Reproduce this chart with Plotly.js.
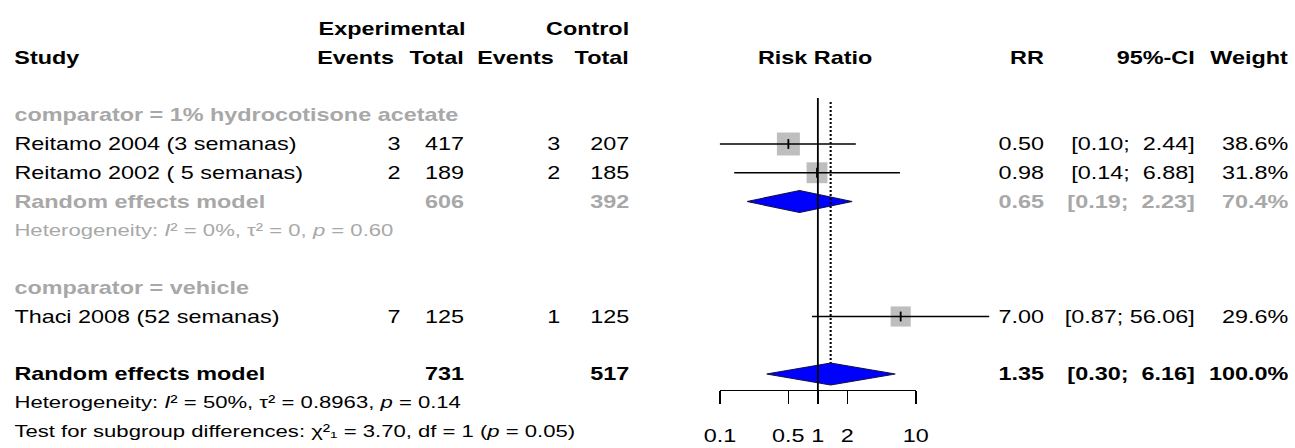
<!DOCTYPE html>
<html>
<head>
<meta charset="utf-8">
<script src="https://cdn.plot.ly/plotly-3.0.1.min.js"></script>
<style>
html, body { margin: 0; padding: 0; background: #ffffff; overflow: hidden; }
#chart { transform-origin: 0 0; }
</style>
</head>
<body>
<div id="chart"></div>
<script>
// ---------------- DATA ----------------
const subgroups = ["comparator = 1% hydrocotisone acetate", "comparator = vehicle"];
const studies = ["Reitamo 2004 (3 semanas)", "Reitamo 2002 ( 5 semanas)", "Thaci 2008 (52 semanas)"];
const studyGroup = [0, 0, 1];
const expEvents = [3, 2, 7];
const expTotal = [417, 189, 125];
const ctrlEvents = [3, 2, 1];
const ctrlTotal = [207, 185, 125];
const rr = [0.50, 0.98, 7.00];
const rrLower = [0.10, 0.14, 0.87];
const rrUpper = [2.44, 6.88, 56.06];
const weight = [38.6, 31.8, 29.6];

// subgroup random effects models (null = not shown)
const subRR = [0.65, null];
const subLower = [0.19, null];
const subUpper = [2.23, null];
const subWeight = [70.4, null];
const subExpTotal = [606, null];
const subCtrlTotal = [392, null];
const subI2 = ["0%", null];
const subTau2 = ["0", null];
const subP = ["0.60", null];

// overall random effects model
const overallRR = [1.35];
const overallLower = [0.30];
const overallUpper = [6.16];
const overallWeight = [100.0];
const overallExpTotal = [731];
const overallCtrlTotal = [517];
const overallI2 = ["50%"];
const overallTau2 = ["0.8963"];
const overallP = ["0.14"];
const testChi2 = ["3.70"];
const testDf = ["1"];
const testP = ["0.05"];

const tickValues = [0.1, 0.5, 1, 2, 10];
const tickLabels = ["0.1", "0.5", "1", "2", "10"];

// ---------------- LAYOUT CONSTANTS ----------------
const W = 1295, H = 448;
const S = 1.3;                 // horizontal stretch of the original picture
const F = 18;                  // font size
const FH = 17;                 // font size of heterogeneity / test lines
const FAMILY = "Liberation Sans, Arial, sans-serif";
const BLACK = "#000000";
const GREY = "#a8a8a8";
const BOXGREY = "#bebebe";
const PX_ONE = 818;            // pixel position of RR = 1
const PX_DEC = 98;             // pixels per decade
const Y0 = 29, DY = 28.75;     // row 0 centre, row height
const AXIS_Y = 390;            // pixel y of the x axis line

const col = {
  study: 12, expEv: 403, expTot: 467, ctrlEv: 563, ctrlTot: 632,
  expHead: 392, rr: 1047, ci: 1197, w: 1291
};

const SUP2 = "\u00B2";
const SUB = { "1": "\u2081", "2": "\u2082", "3": "\u2083" };
const fmt2 = v => v.toFixed(2);
const NB = "\u00A0";
function ciText(lo, hi) {
  const h = fmt2(hi);
  return "[" + fmt2(lo) + ";" + NB.repeat(1 + 5 - h.length) + h + "]";
}
const wText = w => w.toFixed(1) + "%";

const annotations = [];
function txt(text, px, row, anchor, color, bold, size) {
  annotations.push({
    text: bold ? "<b>" + text + "</b>" : text,
    x: px / W, xref: "paper", y: row, yref: "y",
    xanchor: anchor, yanchor: "middle", showarrow: false,
    font: { family: FAMILY, size: size || F, color: color }
  });
}

// header
txt("Experimental", col.expHead, 0, "center", BLACK, true);
txt("Control", col.ctrlTot, 0, "right", BLACK, true);
txt("Study", col.study, 1, "left", BLACK, true);
txt("Events", col.expEv - 6, 1, "right", BLACK, true);
txt("Total", col.expTot, 1, "right", BLACK, true);
txt("Events", col.ctrlEv - 6, 1, "right", BLACK, true);
txt("Total", col.ctrlTot, 1, "right", BLACK, true);
txt("Risk Ratio", PX_ONE - 3, 1, "center", BLACK, true);
txt("RR", col.rr, 1, "right", BLACK, true);
txt("95%-CI", col.ci, 1, "right", BLACK, true);
txt("Weight", col.w, 1, "right", BLACK, true);

const traces = [];
const squares = [], ciLines = [], points = [], diamonds = [];
const wMax = Math.max(...weight);
const BOX = 23;                // px side of the largest box
const DIA_H = 11 / DY;         // half height of diamonds (rows)

function hetText(i2, tau2, p) {
  return "Heterogeneity: <i>I</i>" + SUP2 + " = " + i2 + ", τ" + SUP2 + " = " + tau2 +
         ", <i>p</i> = " + p;
}

let r = 3;
subgroups.forEach((g, gi) => {
  txt(g, col.study, r, "left", GREY, true);
  r++;
  studies.forEach((s, i) => {
    if (studyGroup[i] !== gi) return;
    txt(s, col.study, r, "left", BLACK, false);
    txt(String(expEvents[i]), col.expEv, r, "right", BLACK, false);
    txt(String(expTotal[i]), col.expTot, r, "right", BLACK, false);
    txt(String(ctrlEvents[i]), col.ctrlEv, r, "right", BLACK, false);
    txt(String(ctrlTotal[i]), col.ctrlTot, r, "right", BLACK, false);
    txt(fmt2(rr[i]), col.rr, r, "right", BLACK, false);
    txt(ciText(rrLower[i], rrUpper[i]), col.ci, r, "right", BLACK, false);
    txt(wText(weight[i]), col.w, r, "right", BLACK, false);
    const side = BOX * Math.sqrt(weight[i] / wMax);
    const hx = Math.pow(10, side / 2 / PX_DEC), hy = side / 2 / DY;
    squares.push({ x: [rr[i] / hx, rr[i] * hx, rr[i] * hx, rr[i] / hx, rr[i] / hx],
                   y: [r - hy, r - hy, r + hy, r + hy, r - hy] });
    ciLines.push({ x: [rrLower[i], rrUpper[i]], y: [r, r] });
    points.push({ x: rr[i], y: r });
    r++;
  });
  if (subRR[gi] !== null) {
    txt("Random effects model", col.study, r, "left", GREY, true);
    txt(String(subExpTotal[gi]), col.expTot, r, "right", GREY, true);
    txt(String(subCtrlTotal[gi]), col.ctrlTot, r, "right", GREY, true);
    txt(fmt2(subRR[gi]), col.rr, r, "right", GREY, true);
    txt(ciText(subLower[gi], subUpper[gi]), col.ci, r, "right", GREY, true);
    txt(wText(subWeight[gi]), col.w, r, "right", GREY, true);
    diamonds.push({ x: [subLower[gi], subRR[gi], subUpper[gi], subRR[gi], subLower[gi]],
                    y: [r, r - DIA_H, r, r + DIA_H, r] });
    r++;
    txt(hetText(subI2[gi], subTau2[gi], subP[gi]), col.study, r, "left", GREY, false, FH);
    r++;
  }
  r++;
});

// overall
const rOverall = r;
txt("Random effects model", col.study, r, "left", BLACK, true);
txt(String(overallExpTotal[0]), col.expTot, r, "right", BLACK, true);
txt(String(overallCtrlTotal[0]), col.ctrlTot, r, "right", BLACK, true);
txt(fmt2(overallRR[0]), col.rr, r, "right", BLACK, true);
txt(ciText(overallLower[0], overallUpper[0]), col.ci, r, "right", BLACK, true);
txt(wText(overallWeight[0]), col.w, r, "right", BLACK, true);
diamonds.push({ x: [overallLower[0], overallRR[0], overallUpper[0], overallRR[0], overallLower[0]],
                y: [r, r - DIA_H, r, r + DIA_H, r] });
r++;
txt(hetText(overallI2[0], overallTau2[0], overallP[0]), col.study, r, "left", BLACK, false, FH);
r++;
txt("Test for subgroup differences: χ" + SUP2 + (SUB[testDf[0]] || testDf[0]) + " = " + testChi2[0] +
    ", df = " + testDf[0] + " (<i>p</i> = " + testP[0] + ")", col.study, r, "left", BLACK, false, FH);

const rowOf = px => (px - Y0) / DY;
const axisRow = rowOf(AXIS_Y);

squares.forEach(s => traces.push({
  type: "scatter", mode: "lines", x: s.x, y: s.y, fill: "toself",
  fillcolor: BOXGREY, line: { width: 0, color: BOXGREY }, hoverinfo: "skip"
}));
diamonds.forEach(d => traces.push({
  type: "scatter", mode: "lines", x: d.x, y: d.y, fill: "toself",
  fillcolor: "#0000ff", line: { width: 1, color: "#10104a" }, hoverinfo: "skip"
}));
// reference line (RR = 1) and overall estimate line
traces.push({ type: "scatter", mode: "lines", x: [1, 1], y: [rowOf(98), axisRow],
  line: { color: BLACK, width: 1.4 }, hoverinfo: "skip" });
traces.push({ type: "scatter", mode: "lines", x: [overallRR[0], overallRR[0]],
  y: [rowOf(102), rOverall - DIA_H],
  line: { color: BLACK, width: 1.6, dash: "2px,2px" }, hoverinfo: "skip" });
ciLines.forEach(c => traces.push({
  type: "scatter", mode: "lines", x: c.x, y: c.y,
  line: { color: BLACK, width: 1.5 }, hoverinfo: "skip"
}));
traces.push({ type: "scatter", mode: "markers", x: points.map(p => p.x), y: points.map(p => p.y),
  marker: { symbol: "line-ns", size: 7, line: { width: 1.4, color: BLACK } }, hoverinfo: "skip" });
// invisible trace to carry the visible log axis
traces.push({ type: "scatter", mode: "markers", x: tickValues, y: tickValues.map(() => axisRow),
  xaxis: "x2", yaxis: "y", marker: { opacity: 0, size: 1 }, hoverinfo: "skip" });

const layout = {
  width: Math.round(W / S), height: H,
  margin: { l: 0, r: 0, t: 0, b: 0, pad: 0 },
  paper_bgcolor: "#ffffff", plot_bgcolor: "rgba(0,0,0,0)",
  showlegend: false,
  font: { family: FAMILY, size: F, color: BLACK },
  xaxis: { type: "log", domain: [0, 1], range: [(0 - PX_ONE) / PX_DEC, (W - PX_ONE) / PX_DEC],
           visible: false, fixedrange: true },
  yaxis: { domain: [0, 1], range: [(H - Y0) / DY, (0 - Y0) / DY], visible: false, fixedrange: true },
  xaxis2: { type: "log", domain: [(PX_ONE - PX_DEC) / W, (PX_ONE + PX_DEC) / W],
            range: [-1, 1], anchor: "free", position: 1 - AXIS_Y / H, side: "bottom",
            showline: true, linecolor: BLACK, linewidth: 1.4, mirror: false,
            ticks: "outside", ticklen: 13, tickwidth: 1.2, tickcolor: BLACK,
            tickmode: "array", tickvals: tickValues, ticktext: tickLabels,
            tickfont: { family: FAMILY, size: F, color: BLACK },
            ticklabelstandoff: 16,
            showgrid: false, zeroline: false, fixedrange: true },
  annotations: annotations
};

const el = document.getElementById("chart");
el.style.transform = "scaleX(" + S + ")";
Plotly.newPlot(el, traces, layout, { displayModeBar: false, staticPlot: true });
</script>
</body>
</html>
